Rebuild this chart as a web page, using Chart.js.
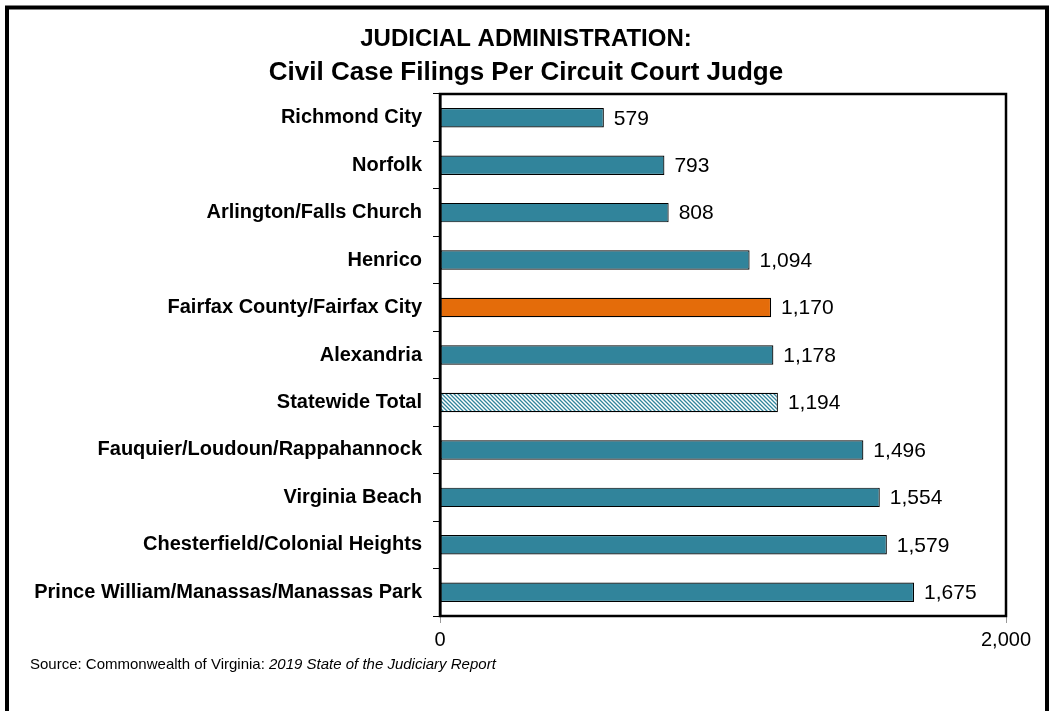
<!DOCTYPE html>
<html>
<head>
<meta charset="utf-8">
<script src="https://cdn.jsdelivr.net/npm/chart.js@4"></script>
<style>
  html, body { margin: 0; padding: 0; background: #ffffff; }
  #wrap { position: relative; width: 1053px; height: 711px; }
</style>
</head>
<body>
<div id="wrap"><canvas id="filingsChart" width="1053" height="711"></canvas></div>
<script>
const categories = [
  "Richmond City",
  "Norfolk",
  "Arlington/Falls Church",
  "Henrico",
  "Fairfax County/Fairfax City",
  "Alexandria",
  "Statewide Total",
  "Fauquier/Loudoun/Rappahannock",
  "Virginia Beach",
  "Chesterfield/Colonial Heights",
  "Prince William/Manassas/Manassas Park"
];
const filingsPerJudge = [579, 793, 808, 1094, 1170, 1178, 1194, 1496, 1554, 1579, 1675];
const xTickValues = [0, 2000];
const titleLines = ["JUDICIAL ADMINISTRATION:", "Civil Case Filings Per Circuit Court Judge"];
const sourceText = "Source: Commonwealth of Virginia: ";
const sourceItalic = "2019 State of the Judiciary Report";

const tealColor = "#31849b";
const orangeColor = "#e46c0a";
const fontFamily = "\"Liberation Sans\", Arial, sans-serif";

function makeHatch() {
  const size = 4;
  const c = document.createElement("canvas");
  c.width = size;
  c.height = size;
  const g = c.getContext("2d");
  g.fillStyle = "#ffffff";
  g.fillRect(0, 0, size, size);
  g.strokeStyle = tealColor;
  g.lineWidth = 1.3;
  g.beginPath();
  g.moveTo(0, 0);
  g.lineTo(size, size);
  g.moveTo(-size, 0);
  g.lineTo(size, size * 2);
  g.moveTo(0, -size);
  g.lineTo(size * 2, size);
  g.stroke();
  return document.getElementById("filingsChart").getContext("2d").createPattern(c, "repeat");
}

const hatch = makeHatch();
const barColors = categories.map((name) => {
  if (name === "Fairfax County/Fairfax City") return orangeColor;
  if (name === "Statewide Total") return hatch;
  return tealColor;
});

const decorPlugin = {
  id: "decor",
  beforeDraw(chart) {
    const ctx = chart.ctx;
    ctx.save();
    // outer frame
    ctx.strokeStyle = "#000000";
    ctx.lineWidth = 4;
    ctx.beginPath();
    ctx.moveTo(7, 720);
    ctx.lineTo(7, 7.5);
    ctx.lineTo(1047, 7.5);
    ctx.lineTo(1047, 720);
    ctx.stroke();
    // title
    ctx.fillStyle = "#000000";
    ctx.textAlign = "center";
    ctx.textBaseline = "middle";
    ctx.font = "bold 24px " + fontFamily;
    ctx.fillText(titleLines[0], 526, 39);
    ctx.font = "bold 26px " + fontFamily;
    ctx.fillText(titleLines[1], 526, 73);
    // source
    ctx.textAlign = "left";
    ctx.textBaseline = "alphabetic";
    ctx.font = "15px " + fontFamily;
    ctx.fillText(sourceText, 30, 669);
    const w = ctx.measureText(sourceText).width;
    ctx.font = "italic 15px " + fontFamily;
    ctx.fillText(sourceItalic, 30 + w, 669);
    ctx.restore();
  },
  afterDatasetsDraw(chart) {
    const ctx = chart.ctx;
    const area = chart.chartArea;
    ctx.save();
    // plot frame
    ctx.strokeStyle = "#000000";
    ctx.lineWidth = 2.5;
    ctx.strokeRect(area.left, area.top, area.right - area.left, area.bottom - area.top);
    // value labels
    const meta = chart.getDatasetMeta(0);
    ctx.fillStyle = "#000000";
    ctx.font = "21px " + fontFamily;
    ctx.textAlign = "left";
    ctx.textBaseline = "middle";
    meta.data.forEach((bar, i) => {
      ctx.fillText(filingsPerJudge[i].toLocaleString("en-US"), bar.x + 10, bar.y + 1);
    });
    ctx.restore();
  }
};

new Chart(document.getElementById("filingsChart"), {
  type: "bar",
  data: {
    labels: categories,
    datasets: [
      {
        data: filingsPerJudge,
        backgroundColor: barColors,
        borderColor: "#000000",
        borderWidth: 1.2,
        borderSkipped: false,
        barPercentage: 0.82,
        categoryPercentage: 0.5
      }
    ]
  },
  options: {
    indexAxis: "y",
    responsive: false,
    animation: false,
    layout: {
      padding: { left: 0, top: 94, right: 47, bottom: 0 }
    },
    plugins: {
      legend: { display: false },
      tooltip: { enabled: false }
    },
    scales: {
      x: {
        min: 0,
        max: 2000,
        afterFit(scale) {
          scale.height = 95;
        },
        afterBuildTicks(scale) {
          scale.ticks = xTickValues.map((v) => ({ value: v }));
        },
        grid: {
          drawOnChartArea: false,
          drawTicks: true,
          tickLength: 7,
          color: "#999999",
          lineWidth: 1
        },
        border: { display: false },
        ticks: {
          color: "#000000",
          padding: 5,
          maxRotation: 0,
          font: { family: fontFamily, size: 20 },
          callback(value) {
            return Number(value).toLocaleString("en-US");
          }
        }
      },
      y: {
        afterFit(scale) {
          scale.width = 440;
        },
        grid: {
          offset: true,
          drawOnChartArea: false,
          drawTicks: true,
          tickLength: 7,
          color: "#000000",
          lineWidth: 1
        },
        border: { display: true, color: "#000000", width: 2.5 },
        ticks: {
          color: "#000000",
          padding: 11,
          autoSkip: false,
          font: { family: fontFamily, size: 20, weight: "bold" }
        }
      }
    }
  },
  plugins: [decorPlugin]
});
</script>
</body>
</html>
